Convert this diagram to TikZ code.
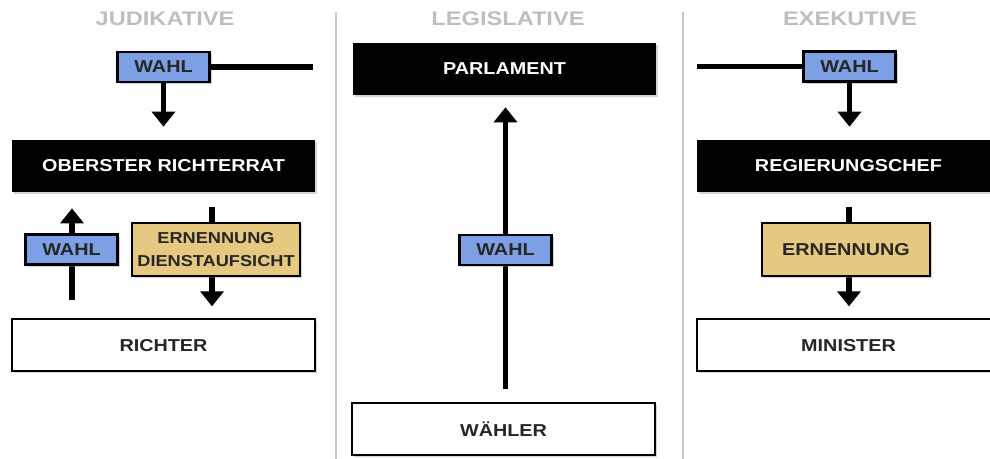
\documentclass[tikz,border=0pt]{standalone}
\usepackage{fontspec}
\setmainfont[FakeStretch=1.15]{Liberation Sans}
\newfontfamily\headfont[FakeStretch=1.2]{Liberation Sans}
\usetikzlibrary{positioning}
\usetikzlibrary{calc}
\usetikzlibrary{arrows.meta}
\usetikzlibrary{shadows}
\definecolor{wahlblau}{RGB}{125,160,228}
\definecolor{ernenngelb}{RGB}{230,200,128}
\definecolor{kopfgrau}{RGB}{190,190,190}
\definecolor{trenngrau}{RGB}{200,200,200}
\tikzset{
amt/.style={
  rectangle,
  inner sep=0pt,
  minimum width=6.06cm,
  minimum height=1.04cm,
  align=center,
  font=\bfseries\fontsize{9.8}{11.5}\selectfont,
  drop shadow={shadow xshift=1.2pt,shadow yshift=-1.2pt,opacity=0.35}
  },
dunkel/.style={amt, fill=black, text=white},
hell/.style={amt, draw=black, line width=1.2pt, fill=white, text=black!85},
wahl/.style={
  rectangle,
  inner sep=0pt,
  minimum width=1.84cm,
  minimum height=0.6cm,
  draw=black,
  line width=1.2pt,
  fill=wahlblau,
  text=black!85,
  font=\bfseries\fontsize{9.8}{11.5}\selectfont,
  drop shadow={shadow xshift=1.2pt,shadow yshift=-1.2pt,opacity=0.35}
  },
ernennung/.style={wahl, fill=ernenngelb, minimum width=3.36cm, minimum height=1.06cm, align=center},
kopf/.style={text=kopfgrau, font=\headfont\bfseries\fontsize{11.2}{13}\selectfont},
pfeil/.style={line width=3.4pt, -{Triangle[width=0.46cm,length=0.3cm]}},
balken/.style={line width=3.4pt}
}
\begin{document}
\begin{tikzpicture}[x=0.02cm,y=-0.02cm]
  \useasboundingbox (0,0) rectangle (990,459);
  % trennlinien
  \draw[trenngrau, line width=1.5pt] (336,12) -- (336,459);
  \draw[trenngrau, line width=1.5pt] (683,12) -- (683,459);
  % judikative
  \node[kopf]      (kopfJ)      at (165,19) {JUDIKATIVE};
  \node[dunkel]    (richterrat) at (163.5,166) {OBERSTER RICHTERRAT};
  \node[hell]      (richter)    [below=2.52cm of richterrat] {RICHTER};
  \node[wahl]      (wahlJ)      [above=1.14cm of richterrat] {WAHL};
  \coordinate      (endeJ)      at (313,67);
  \draw[balken] (wahlJ.east) -- (wahlJ.east -| endeJ);
  \draw[pfeil, shorten >=0.26cm] (wahlJ.south) -- (wahlJ.south |- richterrat.north);
  \draw[balken, shorten <=0.3cm] (richterrat.south -| 212,0) -- (212,249.5);
  \draw[pfeil, shorten >=0.24cm] (212,249.5) -- (richter.north -| 212,0);
  \draw[balken, shorten <=0.36cm] (richter.north -| 72,0) -- (72,249.5);
  \draw[pfeil, shorten >=0.32cm] (72,249.5) -- (richterrat.south -| 72,0);
  \node[wahl]      (wahlL)      at (71.5,249.5) {WAHL};
  \node[ernennung, font=\bfseries\fontsize{9}{13}\selectfont] (ernJ) at (216,249.5) {ERNENNUNG\\DIENSTAUFSICHT};
  % legislative
  \node[kopf]      (kopfL)      at (508,19) {LEGISLATIVE};
  \node[dunkel]    (parlament)  at (504.5,69) {PARLAMENT};
  \node[hell]      (waehler)    at (503.5,429) {WÄHLER};
  \draw[pfeil, shorten <=0.26cm, shorten >=0.24cm] (waehler.north -| 505.5,0) -- (parlament.south -| 505.5,0);
  \node[wahl]      (wahlM)      at (505.5,250) {WAHL};
  % exekutive
  \node[kopf]      (kopfE)      at (850,19) {EXEKUTIVE};
  \node[dunkel]    (chef)       at (848.5,166) {REGIERUNGSCHEF};
  \node[hell]      (minister)   [below=2.52cm of chef] {MINISTER};
  \node[wahl]      (wahlE)      at (849.5,66.5) {WAHL};
  \coordinate      (endeE)      at (697,68);
  \draw[balken] (wahlE.west -| endeE) -- (wahlE.west);
  \draw[pfeil, shorten >=0.26cm] (wahlE.south) -- (wahlE.south |- chef.north);
  \draw[balken, shorten <=0.3cm] (chef.south -| 849,0) -- (849,249.5);
  \draw[pfeil, shorten >=0.24cm] (849,249.5) -- (minister.north -| 849,0);
  \node[ernennung] (ernE)       at (846,249.5) {ERNENNUNG};
\end{tikzpicture}
\end{document}
